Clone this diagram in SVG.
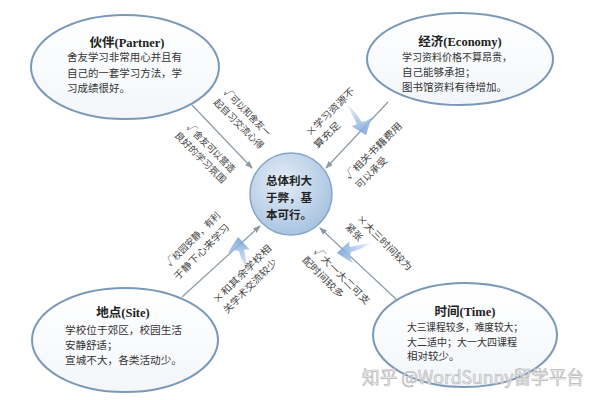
<svg xmlns="http://www.w3.org/2000/svg" width="604" height="400" viewBox="0 0 604 400">
<defs>
<style>
.ell{fill:url(#ellg);stroke:#7b98b8;stroke-width:2}
.ttl{font-family:"Liberation Serif","Noto Sans CJK SC",serif;font-weight:bold;font-size:12.5px;fill:#222;text-anchor:middle}
.body{font-family:"Noto Sans CJK SC",sans-serif;font-size:10.5px;fill:#333}
.lbl{font-family:"Noto Sans CJK SC",sans-serif;font-size:9.5px;fill:#444}
.ctr{font-family:"Noto Sans CJK SC",sans-serif;font-weight:bold;font-size:11.5px;fill:#222}
.con{stroke:#8c9aa6;stroke-width:1.2;fill:none;marker-end:url(#arr)}
.sw{fill:url(#swg);opacity:0.85}
.wm{font-family:"Noto Sans CJK SC",sans-serif;font-size:18px;fill:#f4f4f4;stroke:#b8b8b8;stroke-width:0.7}
</style>
<linearGradient id="ellg" x1="0" y1="0" x2="0" y2="1"><stop offset="0" stop-color="#ffffff"/><stop offset="1" stop-color="#f3f6fa"/></linearGradient>
<radialGradient id="cg" cx="0.4" cy="0.35" r="0.7"><stop offset="0" stop-color="#e4edf7"/><stop offset="1" stop-color="#a6c1df"/></radialGradient>
<linearGradient id="swg" x1="0" y1="0" x2="0" y2="1"><stop offset="0" stop-color="#6e9ed6"/><stop offset="1" stop-color="#e6eef9"/></linearGradient>
<marker id="arr" markerWidth="8" markerHeight="6" refX="7" refY="3" orient="auto" markerUnits="userSpaceOnUse"><path d="M0,0 L8,3 L0,6 z" fill="#8c9aa6"/></marker>
<path id="swoosh" d="M0,0 C-3,5 -7,10 -10,16 C-5,13 -2,13 1,14 C3,22 6,28 10,34 C9,26 7,19 6,13 C8,12 10,12 12,13 C8,8 4,4 0,0 Z"/>
</defs>
<rect width="604" height="400" fill="#ffffff"/>

<g id="connectors">
<line class="con" x1="192" y1="105" x2="252" y2="168"/>
<line class="con" x1="388" y1="102" x2="326" y2="168"/>
<line class="con" x1="182" y1="297" x2="260" y2="226"/>
<line class="con" x1="397" y1="300" x2="320" y2="228"/>
<use href="#swoosh" class="sw" transform="translate(366,135) rotate(165)"/>
<use href="#swoosh" class="sw" transform="translate(238,237)"/>
<use href="#swoosh" class="sw" transform="translate(337,253) rotate(-90)"/>
</g>

<g id="labels">
<g transform="translate(223,93) rotate(45)"><text class="lbl" x="0" y="0" textLength="62" lengthAdjust="spacingAndGlyphs">√可以和舍友一</text><text class="lbl" x="0" y="14" textLength="66" lengthAdjust="spacingAndGlyphs">起自习交流心得</text></g>
<g transform="translate(186,128) rotate(45)"><text class="lbl" x="0" y="0" textLength="64" lengthAdjust="spacingAndGlyphs">√舍友可以营造</text><text class="lbl" x="-3" y="14" textLength="68" lengthAdjust="spacingAndGlyphs">良好的学习氛围</text></g>
<g transform="translate(310,137) rotate(-45)"><text class="lbl" x="0" y="0" textLength="64" lengthAdjust="spacingAndGlyphs">×学习资源不</text><text class="lbl" x="-3" y="14" textLength="33" lengthAdjust="spacingAndGlyphs">算充足</text></g>
<g transform="translate(349,180) rotate(-45)"><text class="lbl" x="0" y="0" textLength="76" lengthAdjust="spacingAndGlyphs">√相关书籍费用</text><text class="lbl" x="1" y="14" textLength="40" lengthAdjust="spacingAndGlyphs">可以承受</text></g>
<g transform="translate(170,267) rotate(-45)"><text class="lbl" x="0" y="0" textLength="72" lengthAdjust="spacingAndGlyphs">√校园安静，有利</text><text class="lbl" x="-4" y="15" textLength="74" lengthAdjust="spacingAndGlyphs">于静下心来学习</text></g>
<g transform="translate(217,304) rotate(-45)"><text class="lbl" x="0" y="0" textLength="78" lengthAdjust="spacingAndGlyphs">×和其余学校相</text><text class="lbl" x="0" y="14" textLength="72" lengthAdjust="spacingAndGlyphs">关学术交流较少</text></g>
<g transform="translate(356,219) rotate(45)"><text class="lbl" x="0" y="0" textLength="74" lengthAdjust="spacingAndGlyphs">×大三时间较为</text><text class="lbl" x="-2" y="14" textLength="20" lengthAdjust="spacingAndGlyphs">紧张</text></g>
<g transform="translate(313,252) rotate(45)"><text class="lbl" x="0" y="0" textLength="75" lengthAdjust="spacingAndGlyphs">√大一大二可支</text><text class="lbl" x="-2" y="14" textLength="54" lengthAdjust="spacingAndGlyphs">配时间较多</text></g>
</g>

<g id="partner">
<ellipse class="ell" cx="125" cy="67" rx="94" ry="52"/>
<text class="ttl" x="127" y="47">伙伴(Partner)</text>
<text class="body" x="67" y="61" textLength="115" lengthAdjust="spacingAndGlyphs">舍友学习非常用心并且有</text>
<text class="body" x="67" y="77" textLength="115" lengthAdjust="spacingAndGlyphs">自己的一套学习方法，学</text>
<text class="body" x="67" y="92">习成绩很好。</text>
</g>

<g id="economy">
<ellipse class="ell" cx="460" cy="59" rx="93" ry="46"/>
<text class="ttl" x="460" y="46">经济(Economy)</text>
<text class="body" x="402" y="61" textLength="110" lengthAdjust="spacingAndGlyphs">学习资料价格不算昂贵，</text>
<text class="body" x="402" y="76">自己能够承担；</text>
<text class="body" x="402" y="91">图书馆资料有待增加。</text>
</g>

<g id="site">
<ellipse class="ell" cx="125" cy="340" rx="93" ry="52"/>
<text class="ttl" x="123" y="317">地点(Site)</text>
<text class="body" x="65" y="334" textLength="117" lengthAdjust="spacingAndGlyphs">学校位于郊区，校园生活</text>
<text class="body" x="65" y="349">安静舒适；</text>
<text class="body" x="65" y="364" textLength="117" lengthAdjust="spacingAndGlyphs">宣城不大，各类活动少。</text>
</g>

<g id="time">
<ellipse class="ell" cx="465" cy="335" rx="92" ry="52"/>
<text class="ttl" x="465" y="316">时间(Time)</text>
<text class="body" x="407" y="331" textLength="116" lengthAdjust="spacingAndGlyphs">大三课程较多，难度较大；</text>
<text class="body" x="407" y="346" textLength="110" lengthAdjust="spacingAndGlyphs">大二适中；大一大四课程</text>
<text class="body" x="407" y="360">相对较少。</text>
</g>

<g id="center">
<circle cx="291" cy="194" r="41" fill="url(#cg)" stroke="#86a6c8" stroke-width="1.5"/>
<text class="ctr" x="266" y="185">总体利大</text>
<text class="ctr" x="266" y="202">于弊，基</text>
<text class="ctr" x="266" y="219">本可行。</text>
</g>

<text class="wm" x="362" y="384" textLength="222" lengthAdjust="spacingAndGlyphs">知乎 @WordSunny留学平台</text>
</svg>
